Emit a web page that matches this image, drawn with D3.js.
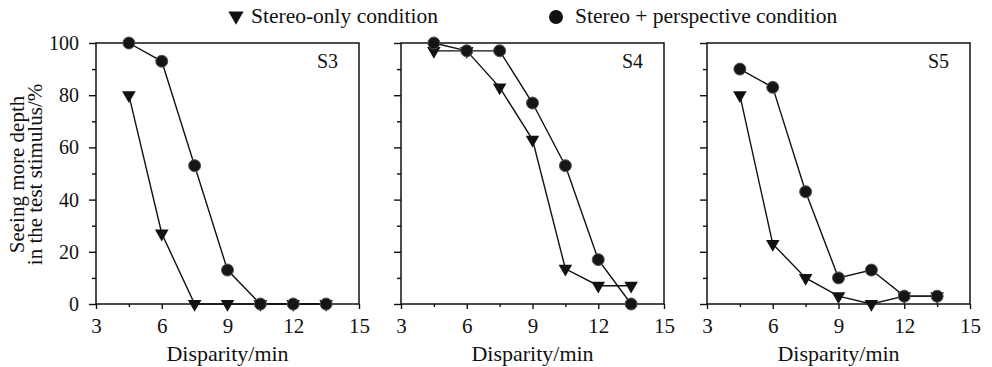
<!DOCTYPE html>
<html><head><meta charset="utf-8">
<script src="https://cdn.jsdelivr.net/npm/d3@7"></script>
<style>body{margin:0;background:#fff}svg{display:block}text{font-family:"Liberation Serif","Times New Roman",serif;fill:#111}</style>
</head><body><svg id="c" width="992" height="367"></svg>
<script>
const disparity = [4.5, 6, 7.5, 9, 10.5, 12, 13.5];
const panels = ["S3", "S4", "S5"];
const stereoOnly = [
  [80, 27, 0, 0, 0, 0, 0],
  [97, 97, 83, 63, 13.5, 7, 7],
  [80, 23, 10, 3, 0, 3, 3]
];
const stereoPersp = [
  [100, 93, 53, 13, 0, 0, 0],
  [100, 97, 97, 77, 53, 17, 0],
  [90, 83, 43, 10, 13, 3, 3]
];
const xTicks = [3, 6, 9, 12, 15];
const xMinor = [4.5, 7.5, 10.5, 13.5];
const yTicks = [0, 20, 40, 60, 80, 100];
const yMinor = [10, 30, 50, 70, 90];
const legendLabels = ["Stereo-only condition", "Stereo + perspective condition"];
const xTitle = "Disparity/min";
const yTitle = ["Seeing more depth", "in the test stimulus/%"];

const svg = d3.select("#c");
const lefts = [96, 401, 707];
const W = 263, plotTop = 43, H = 261;
const tri = d3.symbol().type(d3.symbolTriangle).size(80);

panels.forEach((name, i) => {
  const g = svg.append("g").attr("transform", `translate(${lefts[i]},${plotTop})`);
  const x = d3.scaleLinear().domain([3, 15]).range([0, W]);
  const y = d3.scaleLinear().domain([0, 100]).range([H, 0]);
  g.append("rect").attr("width", W).attr("height", H).attr("fill", "none").attr("stroke", "#111").attr("stroke-width", 1.5);
  const xa = g.append("g").attr("transform", `translate(0,${H})`)
    .call(d3.axisBottom(x).tickValues(xTicks).tickSize(5).tickPadding(9).tickFormat(d3.format("d")));
  xa.select(".domain").remove();
  xa.selectAll("line").attr("stroke", "#111").attr("stroke-width", 1.4);
  xa.selectAll("text").attr("font-size", 21);
  const xm = g.append("g").attr("transform", `translate(0,${H})`)
    .call(d3.axisBottom(x).tickValues(xMinor).tickSize(3).tickFormat(""));
  xm.select(".domain").remove();
  xm.selectAll("line").attr("stroke", "#111").attr("stroke-width", 1.4);
  const ya = g.append("g").call(d3.axisLeft(y).tickValues(yTicks).tickSize(7).tickPadding(10).tickFormat(i === 0 ? d3.format("d") : ""));
  ya.select(".domain").remove();
  ya.selectAll("line").attr("stroke", "#111").attr("stroke-width", 1.4);
  ya.selectAll("text").attr("font-size", 20);
  const ym = g.append("g").call(d3.axisLeft(y).tickValues(yMinor).tickSize(4).tickFormat(""));
  ym.select(".domain").remove();
  ym.selectAll("line").attr("stroke", "#111").attr("stroke-width", 1.4);

  const line = d3.line().x((d, k) => x(disparity[k])).y(d => y(d));
  g.append("path").datum(stereoOnly[i]).attr("d", line).attr("fill", "none").attr("stroke", "#111").attr("stroke-width", 1.4);
  g.append("path").datum(stereoPersp[i]).attr("d", line).attr("fill", "none").attr("stroke", "#111").attr("stroke-width", 1.4);
  g.selectAll(".tri").data(stereoOnly[i]).join("path")
    .attr("d", tri).attr("fill", "#111")
    .attr("transform", (d, k) => `translate(${x(disparity[k])},${y(d)}) rotate(180)`);
  g.selectAll(".cir").data(stereoPersp[i]).join("circle")
    .attr("cx", (d, k) => x(disparity[k])).attr("cy", d => y(d)).attr("r", 6)
    .attr("fill", "#151515").attr("stroke", "#555").attr("stroke-width", 1);

  g.append("text").attr("x", W - 21).attr("y", 25).attr("text-anchor", "end").attr("font-size", 20).text(name);
  g.append("text").attr("x", W / 2).attr("y", H + 57).attr("text-anchor", "middle").attr("font-size", 22).text(xTitle);
});

const yt = svg.append("text").attr("transform", `translate(0,${plotTop + H / 2 + 1}) rotate(-90)`).attr("text-anchor", "middle").attr("font-size", 21);
yt.append("tspan").attr("x", 0).attr("y", 24).text(yTitle[0]);
yt.append("tspan").attr("x", 0).attr("y", 42).text(yTitle[1]);

svg.append("path").attr("d", d3.symbol().type(d3.symbolTriangle).size(100)).attr("fill", "#111")
  .attr("transform", "translate(236,16) rotate(180)");
svg.append("text").attr("x", 251).attr("y", 23).attr("font-size", 21.5).text(legendLabels[0]);
svg.append("circle").attr("cx", 556).attr("cy", 17).attr("r", 7).attr("fill", "#111");
svg.append("text").attr("x", 575).attr("y", 23).attr("font-size", 21.5).text(legendLabels[1]);
</script></body></html>
